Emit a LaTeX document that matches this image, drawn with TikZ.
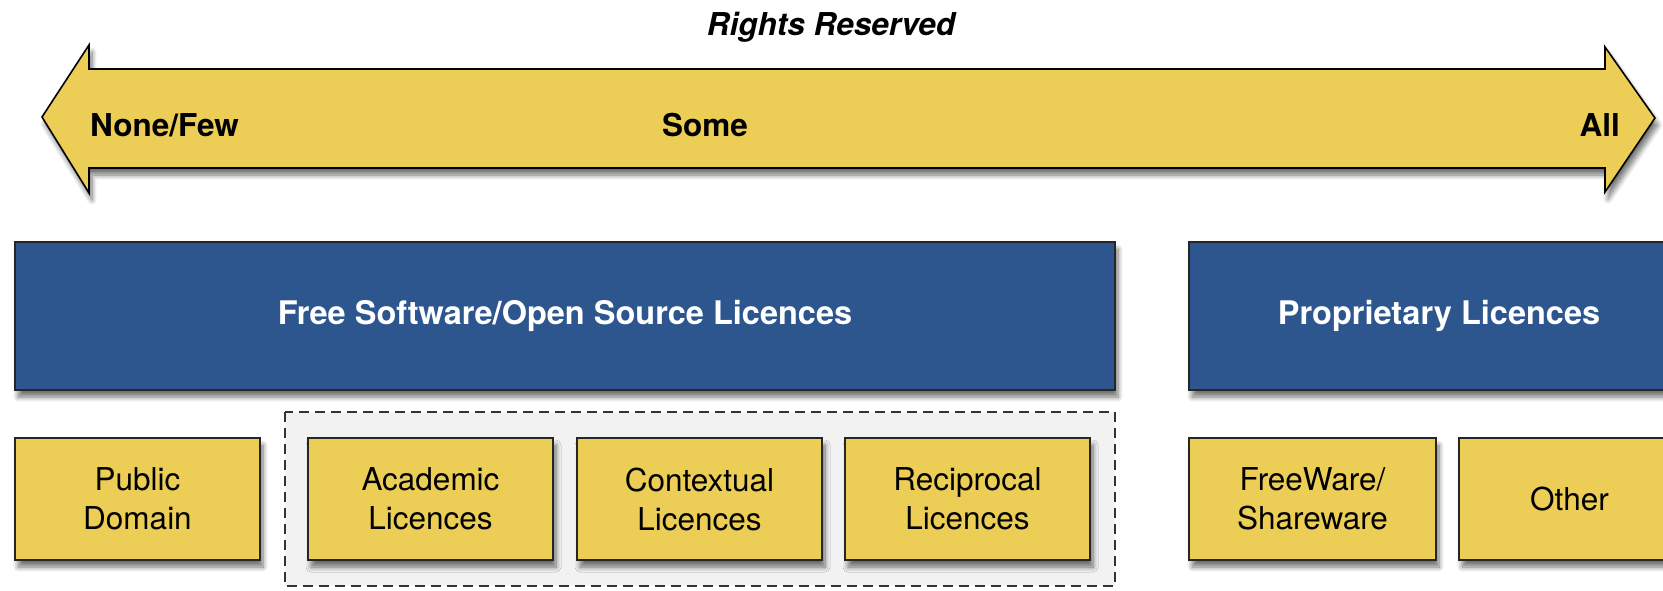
\documentclass[tikz,border=0pt]{standalone}
\usepackage{fontspec}
\setmainfont{TeX Gyre Heros}
\usetikzlibrary{shadows.blur}
\definecolor{licyellow}{RGB}{236,205,85}
\definecolor{licblue}{RGB}{46,86,142}
\tikzset{
  shade/.style={blur shadow={shadow xshift=3pt, shadow yshift=-7pt, shadow blur steps=8, shadow opacity=55, shadow blur radius=5pt}},
  bluebox/.style={draw=black!85, line width=1.6pt, fill=licblue, text=white, inner sep=0pt, shade,
    font=\fontsize{32.5}{38}\selectfont\bfseries},
  yellowbox/.style={draw=black!85, line width=1.6pt, fill=licyellow, inner sep=0pt, shade, align=center,
    font=\fontsize{31.5}{39}\selectfont},
  arrowlabel/.style={inner sep=0pt, font=\fontsize{31.5}{36}\selectfont\bfseries},
  groupbox/.style={draw=black!80, line width=2.2pt, dash pattern=on 10pt off 6pt, fill=black!5}
}
\begin{document}
\begin{tikzpicture}[x=1pt,y=-1pt]
\useasboundingbox (0,0) rectangle (1663,590);
\clip (0,0) rectangle (1663,590);
% scale arrow
\coordinate (lt) at (42,117);
\coordinate (rt) at (1655,118);
\draw[line width=1.6pt, fill=licyellow, line join=miter, shade]
  (lt) -- (89,45) -- (89,69) -- (1605,69) -- (1605,47) -- (rt) -- (1605,192) -- (1605,168) -- (89,168) -- (89,193) -- cycle;
\node[inner sep=0pt, anchor=base, font=\fontsize{31.5}{36}\selectfont\bfseries\itshape] (rr) at (831,35) {Rights Reserved};
\node[arrowlabel, anchor=base west] (none) at (90,136) {None/Few};
\node[arrowlabel, anchor=base] (some) at (705,136) {Some};
\node[arrowlabel, anchor=base east] (all) at (1620,136) {All};
% dashed group
\draw[groupbox] (285,412) rectangle (1115,586);
% blue boxes
\node[bluebox, minimum width=1100pt, minimum height=148pt] (foss) at (565,316) {Free Software/Open Source Licences};
\node[bluebox, minimum width=500pt, minimum height=148pt] (prop) at (1439,316) {Proprietary Licences};
% yellow boxes
\node[yellowbox, minimum width=245pt, minimum height=122pt] (pd) at (137.5,499) {Public\\Domain};
\node[yellowbox, minimum width=245pt, minimum height=122pt] (acad) at (430.5,499) {Academic\\Licences};
\node[yellowbox, minimum width=245pt, minimum height=122pt] (ctx) at (699.5,499) {Contextual\\Licences};
\node[yellowbox, minimum width=245pt, minimum height=122pt] (rec) at (967.5,499) {Reciprocal\\Licences};
\node[yellowbox, minimum width=247pt, minimum height=122pt] (fw) at (1312.5,499) {FreeWare/\\Shareware};
\node[yellowbox, minimum width=221pt, minimum height=122pt] (oth) at (1569.5,499) {Other};
\end{tikzpicture}
\end{document}
